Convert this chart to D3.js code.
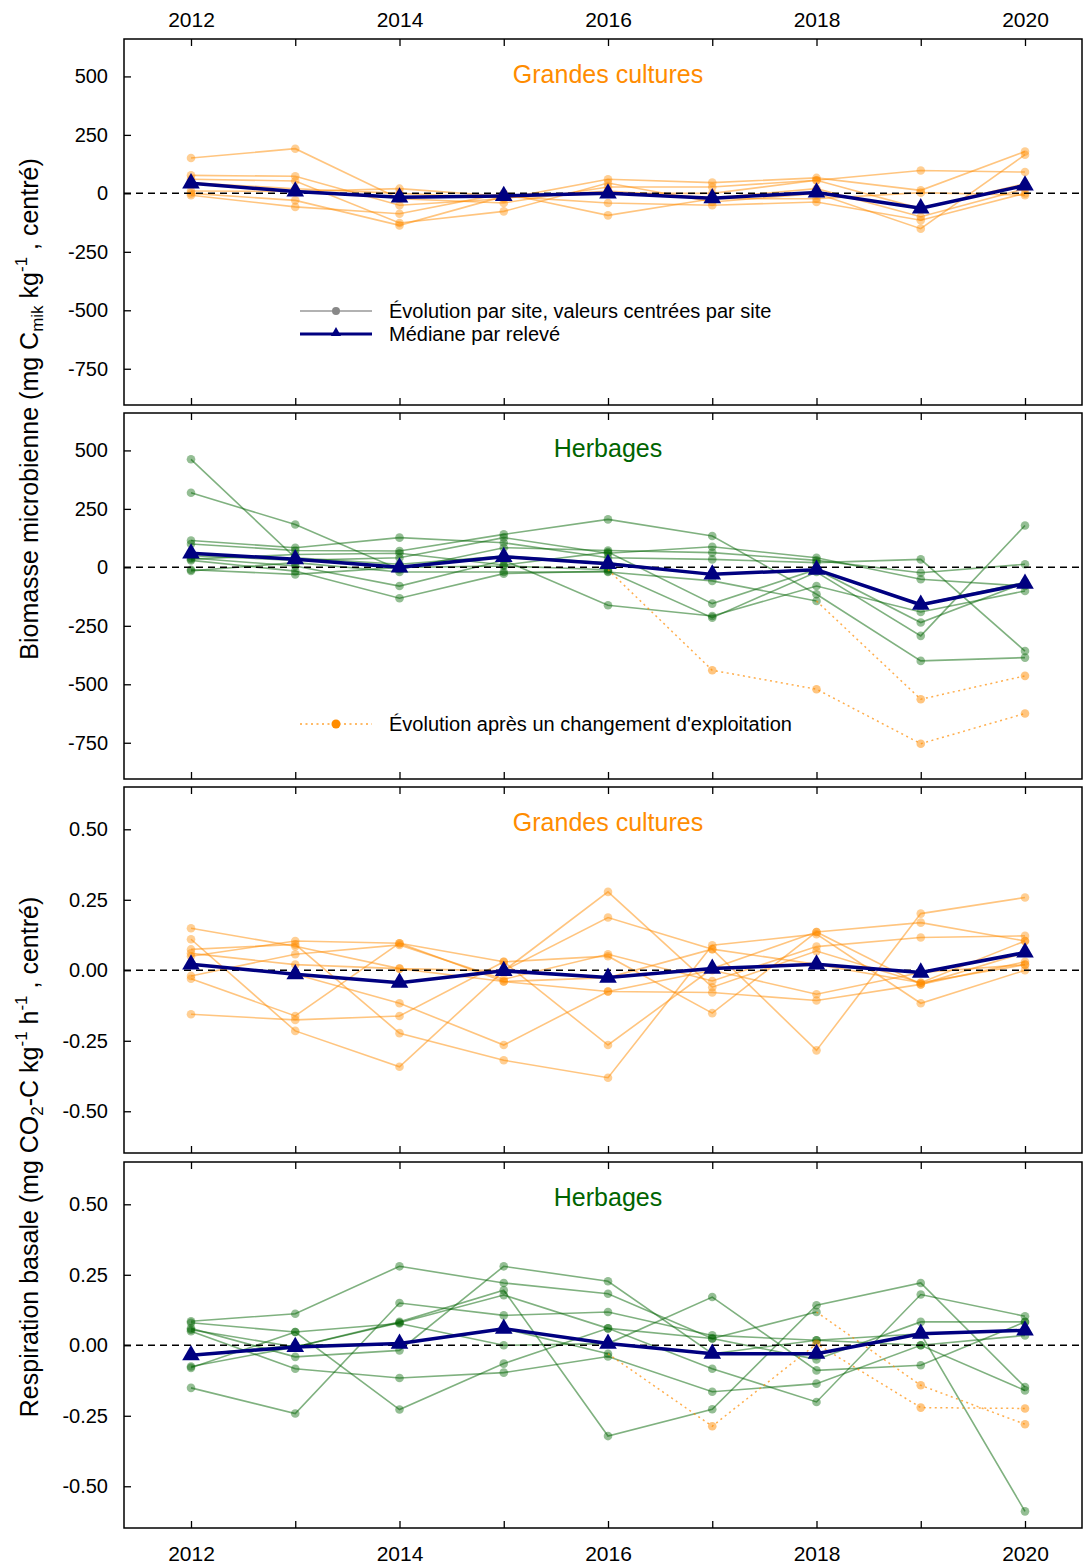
<!DOCTYPE html>
<html>
<head>
<meta charset="utf-8">
<script src="https://cdn.jsdelivr.net/npm/d3@7"></script>
<style>
body { margin: 0; background: #fff; }
svg { font-family: "Liberation Sans", Arial, sans-serif; }
</style>
</head>
<body>
<div id="chart"></div>
<script>
const years = [2012, 2013, 2014, 2015, 2016, 2017, 2018, 2019, 2020];
const yearLabels = [2012, 2014, 2016, 2018, 2020];
const biomTicks = [-750, -500, -250, 0, 250, 500];
const respTicks = [-0.5, -0.25, 0, 0.25, 0.5];

// Biomasse microbienne, grandes cultures (centred per site)
const biomGcSites = [
    [151, 191, -23, -41, 27, 27, 56, 98, 91],
    [77, 73, -51, -23, 60, 46, 66, 13, 179],
    [60, 53, -127, -77, 44, -37, 0, -151, 165],
    [0, -30, -137, -13, -41, -51, -37, -115, 0],
    [-8, -58, -87, 0, -94, -23, -23, 3, -8],
    [10, 8, 20, -13, 0, 0, 56, -65, 41],
    [45, 20, 0, -20, 10, -20, 20, -100, 20]
];
const biomGcMedian = [43, 8, -17, -11, 0, -21, 4, -64, 34];

// Biomasse microbienne, herbages
const biomHbSites = [
    [462, 41, 13, 48, 20, -30, -9, -158, -64],
    [319, 183, -9, 84, 72, 63, 30, -23, 13],
    [115, 84, 127, 105, 41, 34, 20, 34, -358],
    [100, 72, 70, 141, 205, 134, -115, -400, -386],
    [50, 30, 41, 127, 60, 88, 41, -51, -80],
    [40, 6, -80, 30, -162, -208, -80, -191, -101],
    [30, -16, -132, -27, -16, -215, -20, -293, 179],
    [-10, -30, 0, 6, -10, null, null, null, null],
    [-15, 20, -20, -20, -20, -58, -144, null, null],
    [35, 55, 60, 10, 65, -155, -9, -236, -66]
];
const biomHbChange = [
    [null, null, null, null, -10, -440, -521, -754, -625],
    [null, null, null, null, null, null, -144, -564, -464]
];
const biomHbMedian = [60, 35, 0, 45, 15, -30, -10, -160, -70];

// Respiration basale, grandes cultures
const respGcSites = [
    [0.149, 0.085, 0.006, -0.002, 0.278, -0.06, 0.068, -0.044, 0.02],
    [0.110, -0.215, -0.342, -0.002, 0.187, 0.075, -0.284, 0.201, 0.258],
    [0.074, 0.092, -0.223, -0.319, -0.381, 0.089, 0.128, -0.117, 0.0],
    [0.05, 0.104, 0.096, 0.03, -0.265, 0.006, 0.136, 0.169, 0.104],
    [-0.02, 0.057, 0.09, -0.032, 0.057, -0.038, 0.084, 0.116, 0.122],
    [-0.156, -0.176, -0.162, 0.03, 0.05, -0.152, 0.136, -0.05, 0.03],
    [-0.03, -0.162, 0.096, -0.04, -0.075, -0.079, -0.107, -0.05, 0.063],
    [0.02, -0.014, -0.117, -0.265, -0.075, 0.0, -0.085, -0.008, 0.02],
    [0.06, 0.02, 0.006, -0.04, -0.026, 0.075, 0.021, -0.044, 0.104]
];
const respGcMedian = [0.021, -0.014, -0.044, -0.002, -0.026, 0.006, 0.021, -0.008, 0.063];

// Respiration basale, herbages
const respHbSites = [
    [0.085, 0.112, 0.28, 0.221, 0.183, 0.024, -0.05, 0.083, 0.083],
    [0.08, 0.047, -0.228, -0.065, 0.06, -0.083, -0.201, 0.18, 0.103],
    [0.06, -0.041, -0.018, 0.28, 0.227, -0.03, 0.018, 0.041, -0.589],
    [0.05, -0.083, -0.116, -0.097, -0.04, -0.165, -0.136, 0.0, -0.16],
    [-0.075, -0.006, 0.083, 0.195, -0.322, -0.227, 0.142, 0.221, -0.148],
    [-0.08, 0.047, 0.077, 0.0, 0.006, 0.171, -0.089, -0.071, 0.083],
    [-0.151, -0.242, 0.15, 0.106, 0.118, 0.035, 0.018, 0.0, 0.035],
    [-0.035, 0.0, 0.006, 0.059, -0.03, null, null, null, null],
    [0.055, -0.006, 0.08, 0.178, 0.06, 0.024, 0.118, null, null]
];
const respHbChange = [
    [null, null, null, null, -0.03, -0.287, 0.005, -0.221, -0.224],
    [null, null, null, null, null, null, 0.118, -0.142, -0.28]
];
const respHbMedian = [-0.035, -0.006, 0.006, 0.059, 0.006, -0.03, -0.03, 0.041, 0.053];

const orange = "#FF8C00";
const green = "#006400";
const navy = "#000080";

const width = 1083;
const height = 1564;
const left = 124;
const right = 1082;
const panelH = 366;

const svg = d3.select("#chart")
    .append("svg")
    .attr("width", width)
    .attr("height", height);

const x = d3.scaleLinear().domain([2012, 2020]).range([191, 1025]);

const fmtBiom = d => String(d);
const fmtResp = d => d3.format(".2f")(d).replace("\u2212", "-");

const drawPanel = (p, idx) => {
    const y = d3.scaleLinear().domain(p.domain).range([p.top + panelH, p.top]);
    const g = svg.append("g");

    g.append("clipPath")
        .attr("id", "clip" + idx)
        .append("rect")
        .attr("x", left).attr("y", p.top)
        .attr("width", right - left).attr("height", panelH);

    const plot = g.append("g").attr("clip-path", `url(#clip${idx})`);

    const line = d3.line()
        .defined(d => d != null)
        .x((d, i) => x(years[i]))
        .y(d => y(d));

    // individual sites
    p.sites.forEach(s => {
        plot.append("path")
            .attr("d", line(s))
            .attr("fill", "none")
            .attr("stroke", p.color)
            .attr("stroke-opacity", 0.5)
            .attr("stroke-width", 1.6);
        plot.selectAll(null)
            .data(s.map((v, i) => [years[i], v]).filter(d => d[1] != null))
            .enter()
            .append("circle")
            .attr("cx", d => x(d[0]))
            .attr("cy", d => y(d[1]))
            .attr("r", 4.3)
            .attr("fill", p.color)
            .attr("fill-opacity", 0.42);
    });

    // sites after a change of management
    (p.change || []).forEach(s => {
        plot.append("path")
            .attr("d", line(s))
            .attr("fill", "none")
            .attr("stroke", orange)
            .attr("stroke-opacity", 0.7)
            .attr("stroke-width", 1.5)
            .attr("stroke-dasharray", "2,3.5");
        const first = s.findIndex(v => v != null);
        plot.selectAll(null)
            .data(s.map((v, i) => [years[i], v]).filter((d, i) => d[1] != null && i > first))
            .enter()
            .append("circle")
            .attr("cx", d => x(d[0]))
            .attr("cy", d => y(d[1]))
            .attr("r", 4.3)
            .attr("fill", orange)
            .attr("fill-opacity", 0.5);
    });

    // zero line
    plot.append("line")
        .attr("x1", left).attr("x2", right)
        .attr("y1", y(0)).attr("y2", y(0))
        .attr("stroke", "#000")
        .attr("stroke-width", 1.5)
        .attr("stroke-dasharray", "7,5");

    // median per survey
    plot.append("path")
        .attr("d", line(p.median))
        .attr("fill", "none")
        .attr("stroke", navy)
        .attr("stroke-width", 3.5)
        .attr("stroke-linejoin", "round");
    plot.selectAll(null)
        .data(p.median.map((v, i) => [years[i], v]))
        .enter()
        .append("path")
        .attr("d", d3.symbol(d3.symbolTriangle, 135))
        .attr("transform", d => `translate(${x(d[0])},${y(d[1])})`)
        .attr("fill", navy);

    // title
    g.append("text")
        .attr("x", x(2016))
        .attr("y", p.top + 44)
        .attr("text-anchor", "middle")
        .attr("font-size", 25)
        .attr("fill", p.titleColor)
        .text(p.title);

    // frame
    g.append("rect")
        .attr("x", left).attr("y", p.top)
        .attr("width", right - left).attr("height", panelH)
        .attr("fill", "none")
        .attr("stroke", "#000")
        .attr("stroke-width", 1.5);

    // axes
    const yAxis = g.append("g")
        .attr("transform", `translate(${left},0)`)
        .call(d3.axisLeft(y).tickValues(p.ticks).tickFormat(p.fmt)
            .tickSizeInner(-7).tickSizeOuter(0).tickPadding(16));
    yAxis.select(".domain").remove();
    yAxis.selectAll("text").attr("font-size", 20).attr("font-family", "Liberation Sans, Arial, sans-serif").attr("fill", "#000");
    yAxis.selectAll("line").attr("stroke-width", 1.3);

    [["top", p.top, d3.axisTop], ["bottom", p.top + panelH, d3.axisBottom]].forEach(([k, yy, ax]) => {
        const a = g.append("g")
            .attr("transform", `translate(0,${yy})`)
            .call(ax(x).tickValues(years).tickFormat("").tickSizeInner(-7).tickSizeOuter(0));
        a.select(".domain").remove();
        a.selectAll("line").attr("stroke-width", 1.3);
    });

    if (p.legend) p.legend(g, p.top);
};

const legendMain = (g, top) => {
    const lg = g.append("g").attr("transform", `translate(0,${top})`);
    lg.append("line").attr("x1", 300).attr("x2", 372).attr("y1", 272).attr("y2", 272)
        .attr("stroke", "#999").attr("stroke-width", 1.6);
    lg.append("circle").attr("cx", 336).attr("cy", 272).attr("r", 4).attr("fill", "#888");
    lg.append("text").attr("x", 389).attr("y", 272).attr("dy", "0.35em")
        .attr("font-size", 20).text("Évolution par site, valeurs centrées par site");
    lg.append("line").attr("x1", 300).attr("x2", 372).attr("y1", 295).attr("y2", 295)
        .attr("stroke", navy).attr("stroke-width", 3);
    lg.append("path").attr("d", d3.symbol(d3.symbolTriangle, 45))
        .attr("transform", "translate(336,294)").attr("fill", navy);
    lg.append("text").attr("x", 389).attr("y", 295).attr("dy", "0.35em")
        .attr("font-size", 20).text("Médiane par relevé");
};

const legendChange = (g, top) => {
    const lg = g.append("g").attr("transform", `translate(0,${top})`);
    lg.append("line").attr("x1", 300).attr("x2", 372).attr("y1", 311).attr("y2", 311)
        .attr("stroke", orange).attr("stroke-opacity", 0.8).attr("stroke-width", 1.5)
        .attr("stroke-dasharray", "2,3.5");
    lg.append("circle").attr("cx", 336).attr("cy", 311).attr("r", 4.5).attr("fill", orange);
    lg.append("text").attr("x", 389).attr("y", 311).attr("dy", "0.35em")
        .attr("font-size", 20).text("Évolution après un changement d'exploitation");
};

const panels = [
    { top: 39, domain: [-905, 660], ticks: biomTicks, fmt: fmtBiom, sites: biomGcSites, color: orange,
      median: biomGcMedian, title: "Grandes cultures", titleColor: orange, legend: legendMain },
    { top: 413, domain: [-905, 660], ticks: biomTicks, fmt: fmtBiom, sites: biomHbSites, color: green,
      change: biomHbChange, median: biomHbMedian, title: "Herbages", titleColor: green, legend: legendChange },
    { top: 787, domain: [-0.648, 0.65], ticks: respTicks, fmt: fmtResp, sites: respGcSites, color: orange,
      median: respGcMedian, title: "Grandes cultures", titleColor: orange },
    { top: 1162, domain: [-0.648, 0.65], ticks: respTicks, fmt: fmtResp, sites: respHbSites, color: green,
      change: respHbChange, median: respHbMedian, title: "Herbages", titleColor: green }
];

panels.forEach(drawPanel);

// year labels, top and bottom
const topLab = svg.append("g").attr("transform", "translate(0,39)")
    .call(d3.axisTop(x).tickValues(yearLabels).tickFormat(d3.format("d")).tickSize(0).tickPadding(12));
const botLab = svg.append("g").attr("transform", `translate(0,${1162 + panelH})`)
    .call(d3.axisBottom(x).tickValues(yearLabels).tickFormat(d3.format("d")).tickSize(0).tickPadding(18));
[topLab, botLab].forEach(a => {
    a.select(".domain").remove();
    a.selectAll("text").attr("font-size", 21).attr("font-family", "Liberation Sans, Arial, sans-serif").attr("fill", "#000");
});

// y axis titles
const t1 = svg.append("text")
    .attr("transform", "translate(38,409) rotate(-90)")
    .attr("text-anchor", "middle")
    .attr("font-size", 25);
t1.append("tspan").text("Biomasse microbienne (mg C");
t1.append("tspan").attr("font-size", 17).attr("dy", 5).text("mik");
t1.append("tspan").attr("dy", -5).text(" kg");
t1.append("tspan").attr("font-size", 17).attr("dy", -11).text("-1");
t1.append("tspan").attr("dy", 11).text(" ,  centré)");

const t2 = svg.append("text")
    .attr("transform", "translate(38,1157) rotate(-90)")
    .attr("text-anchor", "middle")
    .attr("font-size", 25);
t2.append("tspan").text("Respiration basale (mg CO");
t2.append("tspan").attr("font-size", 17).attr("dy", 5).text("2");
t2.append("tspan").attr("dy", -5).text("-C kg");
t2.append("tspan").attr("font-size", 17).attr("dy", -11).text("-1");
t2.append("tspan").attr("dy", 11).text(" h");
t2.append("tspan").attr("font-size", 17).attr("dy", -11).text("-1");
t2.append("tspan").attr("dy", 11).text(" ,  centré)");
</script>
</body>
</html>
